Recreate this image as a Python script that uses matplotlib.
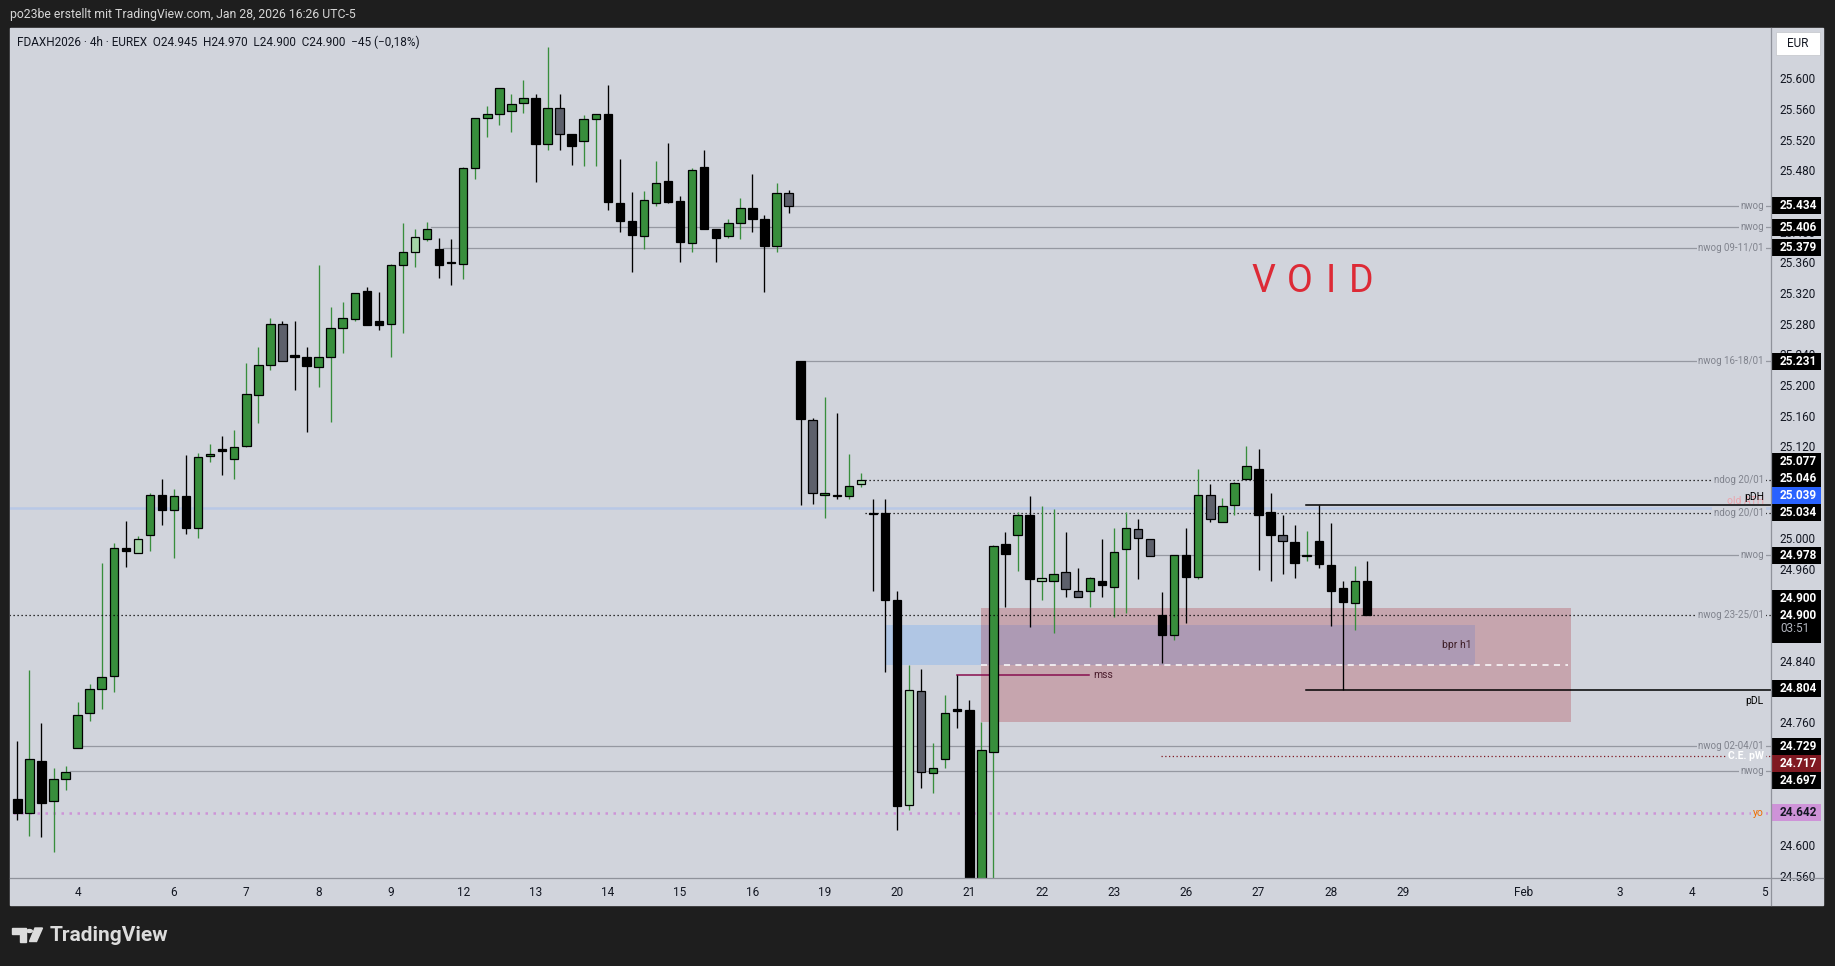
import matplotlib
matplotlib.use("Agg")
import matplotlib.pyplot as plt
import numpy as np
from matplotlib.patches import Rectangle, Polygon
from matplotlib.transforms import blended_transform_factory

plt.rcParams["font.family"] = ["Roboto", "DejaVu Sans"]

W, H = 1835, 966
BG = "#d1d4dc"
DARK = "#1e1e1e"
GREEN = "#388e3c"
TXT = "#131722"

# --- FDAXH2026 4h candles ---
opens = [24660, 24642, 24710, 24658, 24686, 24727, 24772, 24804, 24820, 24987,
         24981, 25004, 25056, 25037, 25055, 25013, 25107, 25116, 25103, 25121,
         25187, 25226, 25279, 25239, 25237, 25224, 25236, 25275, 25286, 25323,
         25284, 25280, 25356, 25374, 25390, 25378, 25361, 25358, 25483, 25549,
         25554, 25558, 25568, 25575, 25515, 25562, 25527, 25519, 25547, 25554,
         25438, 25414, 25395, 25437, 25466, 25440, 25385, 25484, 25403, 25395,
         25411, 25431, 25416, 25382, 25450, 25231, 25155, 25056, 25057, 25055,
         25071, 25033, 25033, 24919, 24652, 24801, 24694, 24712, 24777, 24776,
         24550, 24722, 24993, 25004, 25030, 24945, 24944, 24956, 24932, 24931,
         24945, 24937, 24986, 25012, 24999, 24900, 24874, 24978, 24949, 25056,
         25021, 25043, 25077, 25091, 25034, 25005, 24995, 24977, 24997, 24965,
         24935, 24916, 24945]
highs = [24736, 24828, 24759, 24701, 24703, 24787, 24810, 24968, 24994, 25023,
         25003, 25059, 25077, 25064, 25109, 25111, 25123, 25133, 25141, 25229,
         25250, 25288, 25284, 25284, 25250, 25357, 25302, 25308, 25320, 25328,
         25321, 25358, 25412, 25404, 25413, 25392, 25391, 25485, 25549, 25564,
         25588, 25580, 25598, 25580, 25641, 25580, 25528, 25552, 25554, 25591,
         25495, 25452, 25453, 25492, 25516, 25447, 25483, 25507, 25403, 25417,
         25444, 25475, 25422, 25463, 25454, 25231, 25157, 25184, 25164, 25110,
         25085, 25051, 25051, 24931, 24835, 24830, 24733, 24796, 24822, 24789,
         24761, 24991, 25008, 25034, 25055, 25042, 25038, 25008, 24961, 24950,
         24999, 25014, 25034, 25025, 24999, 24930, 24978, 25014, 25090, 25071,
         25053, 25074, 25121, 25117, 25059, 25031, 25017, 25010, 25044, 25020,
         24945, 24964, 24970]
lows = [24633, 24612, 24610, 24591, 24672, 24727, 24762, 24777, 24799, 24963,
        24981, 24983, 25018, 24975, 25006, 25001, 25099, 25083, 25078, 25119,
        25151, 25219, 25232, 25194, 25139, 25198, 25152, 25242, 25283, 25278,
        25272, 25237, 25268, 25354, 25388, 25340, 25331, 25338, 25469, 25524,
        25539, 25530, 25555, 25465, 25507, 25507, 25487, 25486, 25486, 25428,
        25400, 25347, 25378, 25434, 25437, 25360, 25374, 25403, 25361, 25392,
        25391, 25400, 25322, 25374, 25424, 25044, 25045, 25026, 25051, 25051,
        25067, 24932, 24826, 24620, 24646, 24674, 24668, 24701, 24753, 24530,
        24530, 24550, 24911, 24958, 24885, 24919, 24876, 24923, 24924, 24910,
        24923, 24898, 24903, 24947, 24977, 24837, 24867, 24889, 24947, 25022,
        25021, 25030, 25077, 24959, 24944, 24954, 24948, 24971, 24962, 24886,
        24802, 24880, 24900]
closes = [24642, 24712, 24655, 24686, 24695, 24769, 24804, 24819, 24987, 24984,
          24999, 25056, 25037, 25055, 25013, 25106, 25110, 25114, 25119, 25188,
          25226, 25279, 25232, 25236, 25225, 25236, 25274, 25288, 25320, 25278,
          25278, 25356, 25373, 25393, 25404, 25356, 25359, 25483, 25549, 25554,
          25588, 25566, 25575, 25515, 25562, 25527, 25512, 25547, 25554, 25439,
          25414, 25396, 25441, 25464, 25439, 25386, 25481, 25403, 25392, 25412,
          25431, 25416, 25381, 25451, 25434, 25156, 25059, 25059, 25055, 25068,
          25076, 25032, 24919, 24651, 24802, 24695, 24701, 24772, 24775, 24545,
          24724, 24990, 24979, 25031, 24947, 24948, 24954, 24934, 24924, 24948,
          24939, 24982, 25014, 25000, 24977, 24874, 24978, 24949, 25057, 25025,
          25042, 25072, 25094, 25031, 25005, 24997, 24968, 24977, 24967, 24932,
          24917, 24944, 24900]
# g = up, k = down, d = grey down, l = light up
candle_kind = ("kgkggggggk" "lgkgkggkgg" "ggdkkggggk" "kgglgkkggg"
               "gggkgdkggk" "kkggkkgkkg" "gkkgdkdgdg" "lkkkldggkk"
               "ggkgklgddg" "kggddkgkgd" "gggkkdkgkk" "kgk")

day_labels = ["4", "6", "7", "8", "9", "12", "13", "14", "15", "16", "19", "20",
              "21", "22", "23", "26", "27", "28", "29", "Feb", "3", "4", "5"]
day_bars = [5, 13, 19, 25, 31, 37, 43, 49, 55, 61, 67, 73, 79, 85, 91, 97, 103,
            109, 115, 125, 133, 139, 145]

# horizontal levels: price, first bar, label
gap_levels = [25434, 25406, 25379, 25231, 24978, 24729, 24697]
gap_starts = [64, 34, 35, 65, 94, 5, 4]
gap_names = ["nwog", "nwog", "nwog 09-11/01", "nwog 16-18/01", "nwog",
             "nwog 02-04/01", "nwog"]
ndog_levels = [25076, 25033]
ndog_start = 70
old_ath = 25039
pdh, pdl, pd_start = 25044, 24802, 106.9
ce_pw, ce_start = 24716, 94.9
yearly_open = 24642
last_price = 24900
mss_level, mss_from, mss_to = 24822, 78, 88.9
bpr_box = (72, 121, 24835, 24887)
fvg_box = (80, 128.9, 24761, 24909)

# price-scale tags: value, box colour, text colour
tag_values = [25434, 25406, 25379, 25231, 25077, 25046, 25039, 25034, 24978,
              24900, 24804, 24729, 24717, 24697, 24642]
tag_colors = ["#000000"] * 6 + ["#2962ff", "#000000", "#000000", "#000000",
              "#000000", "#000000", "#801922", "#000000", "#ce93d8"]
tag_text = ["white"] * 14 + [TXT]


def fx(x):
    return x / W


def fy(y):
    return 1 - y / H


fig = plt.figure(figsize=(W / 100, H / 100), dpi=100, facecolor=DARK)
fig.add_artist(Rectangle((fx(10), fy(905)), (1823 - 10) / W, (905 - 27.5) / H,
                         transform=fig.transFigure, color=BG, zorder=0))

ax_l, ax_r, ax_t, ax_b = 10, 1771, 27.5, 878
ax = fig.add_axes([fx(ax_l), fy(ax_b), (ax_r - ax_l) / W, (ax_b - ax_t) / H])
ax.set_facecolor(BG)
ax.set_xlim(-0.61, 145.53)
ymin, ymax = 24557, 25666.4
ax.set_ylim(ymin, ymax)
for s in ax.spines.values():
    s.set_visible(False)

px_per_pt = (ax_b - ax_t) / (ymax - ymin)
trans = blended_transform_factory(ax.transAxes, ax.transData)


def ax_x(xpix):
    return (xpix - ax_l) / (ax_r - ax_l)


# zones
x0, x1, y0, y1 = bpr_box
ax.add_patch(Rectangle((x0, y0), x1 - x0, y1 - y0, color="#b0c6e4", lw=0, zorder=1))
x0, x1, y0, y1 = fvg_box
ax.add_patch(Rectangle((x0, y0), x1 - x0, y1 - y0, facecolor=(0.655, 0.063, 0.11),
                       alpha=0.24, lw=0, zorder=1.1))
ax.plot([x0, x1 - 0.2], [(y0 + y1) / 2] * 2, color="white", lw=1.1,
        dashes=(4, 3.5), zorder=1.2)
ax.text(bpr_box[1] - 0.3, 24861, "bpr h1", ha="right", va="center",
        fontsize=7.5, color="#3b1b24", zorder=1.3)

# levels
xr = 145.53
for lv, st in zip(gap_levels, gap_starts):
    ax.plot([st + 0.35, xr], [lv, lv], color="#9598a1", lw=0.9, zorder=1.5)
ax.plot([-1, xr], [old_ath, old_ath], color="#b8c8e6", lw=1.8, zorder=1.5)
for lv in ndog_levels:
    ax.plot([ndog_start + 0.35, xr], [lv, lv], color="black", lw=0.9,
            dashes=(1, 2.2), zorder=1.5)
ax.plot([pd_start, xr], [pdh, pdh], color="black", lw=1.1, zorder=1.5)
ax.plot([pd_start, xr], [pdl, pdl], color="black", lw=1.1, zorder=1.5)
ax.plot([ce_start, xr], [ce_pw, ce_pw], color="#801922", lw=0.9,
        dashes=(1, 2), zorder=1.5)
ax.plot([-1, xr], [yearly_open, yearly_open], color="#ce93d8", lw=1.8,
        dashes=(1, 2.2), zorder=1.5)
ax.plot([mss_from, mss_to], [mss_level, mss_level], color="#880e4f", lw=1.1, zorder=1.5)
ax.text(mss_to + 0.35, mss_level, "mss", ha="left", va="center", fontsize=7.5,
        color="#4a1d2c", zorder=1.6)

# candles
for i, (o, h, l, c, k) in enumerate(zip(opens, highs, lows, closes, candle_kind)):
    wick = GREEN if k in "gl" else "black"
    face = {"g": GREEN, "l": "#a5d6a7", "k": "black", "d": "#5d606b"}[k]
    ax.plot([i, i], [l, h], color=wick, lw=0.95, zorder=3, solid_capstyle="butt")
    lo = min(o, c)
    ht = max(abs(c - o), 1.3)
    ax.add_patch(Rectangle((i - 0.35, lo), 0.7, ht, facecolor=face,
                           edgecolor="black", lw=0.9, zorder=3.1))

# last price line
ax.plot([-1, xr], [last_price, last_price], color="black", lw=0.9,
        dashes=(1, 2.2), zorder=4)

# line labels at right edge of plot
lbl_x = ax_x(1764)
for lv, name in zip(gap_levels, gap_names):
    ax.text(lbl_x, lv, name, transform=trans, ha="right", va="center",
            fontsize=7, color="#80838d", zorder=4.5,
            bbox=dict(facecolor=BG, edgecolor="none", pad=1.2))
for lv in ndog_levels:
    ax.text(lbl_x, lv, "ndog 20/01", transform=trans, ha="right", va="center",
            fontsize=7, color="#80838d", zorder=4.5,
            bbox=dict(facecolor=BG, edgecolor="none", pad=1.2))
ax.text(lbl_x, last_price, "nwog 23-25/01", transform=trans, ha="right",
        va="center", fontsize=7, color="#80838d", zorder=4.5,
        bbox=dict(facecolor=BG, edgecolor="none", pad=1.2))
ax.text(lbl_x, old_ath + 10, "old ATH", transform=trans, ha="right", va="center",
        fontsize=7.5, color="#eba3ab", zorder=4.4)
ax.text(lbl_x, pdh + 10, "pDH", transform=trans, ha="right", va="center",
        fontsize=7.5, color="black", zorder=4.5)
ax.text(lbl_x, pdl - 14, "pDL", transform=trans, ha="right", va="center",
        fontsize=7.5, color="black", zorder=4.5)
ax.text(lbl_x, ce_pw, "C.E. pW", transform=trans, ha="right", va="center",
        fontsize=7.5, color="white", fontweight="bold", zorder=4.5,
        bbox=dict(facecolor=BG, edgecolor="none", pad=1.2))
ax.text(lbl_x, yearly_open, "yo", transform=trans, ha="right", va="center",
        fontsize=7.5, color="#ef6c00", zorder=4.5,
        bbox=dict(facecolor=BG, edgecolor="none", pad=1.2))

# ticks
ax.set_xticks(day_bars)
ax.set_xticklabels(day_labels)
ax.tick_params(axis="x", length=0, pad=5.5, labelsize=8.5, labelcolor=TXT)
ax.yaxis.tick_right()
yt = np.arange(24560, 25601, 40)
ax.set_yticks(yt)
ax.set_yticklabels([f"{v / 1000:.3f}" for v in yt])
ax.tick_params(axis="y", length=0, pad=6.3, labelsize=8.5, labelcolor=TXT)

# price scale tags, pushed apart away from the live price tag
tag_h = 17 / px_per_pt
cd_extra = 19 / px_per_pt
pos = {}
top = last_price + tag_h / 2
bottom = last_price - tag_h / 2 - cd_extra
for i in sorted([i for i, v in enumerate(tag_values) if v >= last_price],
                key=lambda i: tag_values[i]):
    p = max(tag_values[i], top + tag_h / 2)
    pos[i] = p
    top = p + tag_h / 2
for i in sorted([i for i, v in enumerate(tag_values) if v < last_price],
                key=lambda i: -tag_values[i]):
    p = min(tag_values[i], bottom - tag_h / 2)
    pos[i] = p
    bottom = p - tag_h / 2

bx0, bw = ax_x(1772), (1820.5 - 1772) / (ax_r - ax_l)
tx = ax_x(1780)
for i, p in pos.items():
    ax.add_patch(Rectangle((bx0, p - tag_h / 2), bw, tag_h, transform=trans,
                           facecolor=tag_colors[i], lw=0, clip_on=False, zorder=6))
    ax.text(tx, p, f"{tag_values[i] / 1000:.3f}", transform=trans, ha="left",
            va="center", fontsize=8.5, fontweight="bold", color=tag_text[i],
            clip_on=False, zorder=7)
ax.add_patch(Rectangle((bx0, last_price - tag_h / 2 - cd_extra), bw,
                       tag_h + cd_extra, transform=trans, facecolor="black", lw=0,
                       clip_on=False, zorder=6))
ax.text(tx, last_price, f"{last_price / 1000:.3f}", transform=trans, ha="left",
        va="center", fontsize=8.5, fontweight="bold", color="white",
        clip_on=False, zorder=7)
ax.text(tx, last_price - 13.5 / px_per_pt, "03:51", transform=trans, ha="left",
        va="center", fontsize=8.5, color="#b2b5be", clip_on=False, zorder=7)

# panel separators
sep = "#8f929b"
fig.add_artist(plt.Line2D([fx(ax_r), fx(ax_r)], [fy(27.5), fy(905)], color=sep,
                          lw=0.9, transform=fig.transFigure))
fig.add_artist(plt.Line2D([fx(10), fx(1823)], [fy(ax_b), fy(ax_b)], color=sep,
                          lw=0.9, transform=fig.transFigure))

# EUR badge
fig.add_artist(Rectangle((fx(1776), fy(55)), 44 / W, 23 / H, transform=fig.transFigure,
                         facecolor="white", edgecolor="#c8cad0", lw=0.6))
fig.text(fx(1798), fy(43.5), "EUR", ha="center", va="center", fontsize=8.5, color=TXT)

# header texts
fig.text(fx(10), fy(14.5), "po23be erstellt mit TradingView.com, Jan 28, 2026 16:26 UTC-5",
         ha="left", va="center", fontsize=8.8, color="#d6d6d6")
fig.text(fx(17), fy(42), "FDAXH2026 · 4h · EUREX  O24.945  H24.970  L24.900  C24.900  "
         "\u221245 (\u22120,18%)", ha="left", va="center", fontsize=8.5, color=TXT)

# VOID
for ch, cx in zip("VOID", [1263.3, 1300, 1330.8, 1360.8]):
    fig.text(fx(cx), fy(282), ch, ha="center", va="center", fontsize=27,
             color="#dd2a36")

# TradingView logo
lc = "#dcdcdc"
fig.add_artist(Polygon([(fx(12), fy(928)), (fx(26), fy(928)), (fx(26), fy(941.5)),
                        (fx(20), fy(941.5)), (fx(20), fy(934)), (fx(12), fy(934))],
                       transform=fig.transFigure, color=lc))
fig.add_artist(plt.Circle((fx(29.5), fy(931)), 2.8 / W, transform=fig.transFigure,
                          color=lc))
fig.add_artist(Polygon([(fx(35), fy(928)), (fx(42.5), fy(928)), (fx(36.5), fy(941.5)),
                        (fx(29.5), fy(941.5))], transform=fig.transFigure, color=lc))
fig.text(fx(50), fy(935.5), "TradingView", ha="left", va="center", fontsize=15,
         fontweight="bold", color=lc)

fig.savefig("out.png", dpi=100, facecolor=DARK)
